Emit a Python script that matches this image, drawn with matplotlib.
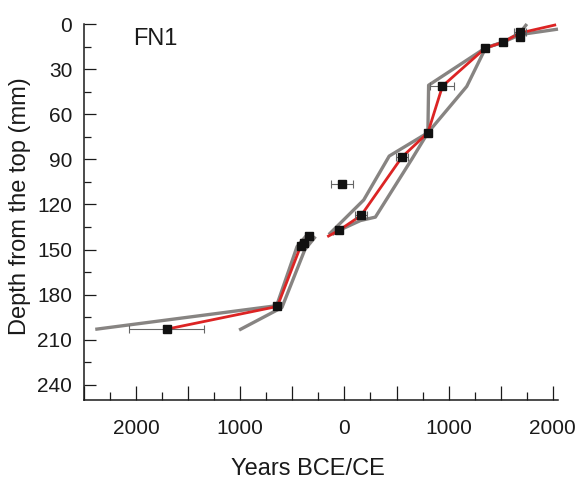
import matplotlib
matplotlib.use("Agg")
import matplotlib.pyplot as plt
from matplotlib.ticker import MultipleLocator, FuncFormatter

plt.rcParams['font.family'] = ['Liberation Sans', 'DejaVu Sans']

# dated samples: year (negative = BCE), depth in mm, 2-sigma age error
sample_year = [-1706, -644, -421, -389, -342, -22, -55, 160, 552, 801, 941, 1352, 1519, 1684, 1684]
sample_depth = [202.9, 187.8, 147.8, 145.5, 140.7, 106.5, 137.3, 127.3, 88.5, 72.3, 41.3, 16.0, 12.2, 5.5, 8.5]
sample_err = [360, 30, 20, 20, 25, 108, 25, 55, 55, 20, 115, 20, 20, 60, 30]

# age model, split at the hiatus around 140 mm
median_low_year = [-1706, -644, -421, -389, -342]
median_low_depth = [202.9, 187.8, 147.8, 145.5, 140.7]
median_up_year = [-153, -55, 160, 552, 801, 941, 1352, 1519, 1684, 2019]
median_up_depth = [141.0, 137.3, 127.3, 88.5, 72.3, 41.3, 16.0, 12.2, 6.0, 0.7]

old_low_year = [-2392, -651, -455, -357]
old_low_depth = [203.0, 187.3, 148.0, 140.0]
young_low_year = [-1011, -600, -380, -278]
young_low_depth = [203.5, 188.5, 150.0, 141.3]

old_up_year = [-150, 185, 430, 801, 808, 1356, 1519, 1684, 1751]
old_up_depth = [140.0, 117.0, 87.8, 72.3, 40.7, 15.8, 12.2, 6.0, 0.0]
young_up_year = [-118, -55, 153, 297, 650, 801, 1174, 1356, 1519, 1690, 2050]
young_up_depth = [140.0, 137.3, 130.7, 128.4, 89.5, 72.3, 41.5, 15.8, 12.2, 7.0, 3.4]

GRAY = '#878482'
RED = '#dc2424'
INK = '#1a1a1a'

fig = plt.figure(figsize=(5.81, 4.82), dpi=100)
ax = fig.add_axes([84 / 581, 82 / 482, 474 / 581, 376 / 482])

for xs, ys in [(old_low_year, old_low_depth), (young_low_year, young_low_depth),
               (old_up_year, old_up_depth), (young_up_year, young_up_depth)]:
    ax.plot(xs, ys, color=GRAY, lw=2.4, solid_capstyle='butt', clip_on=False, zorder=2)

for xs, ys in [(median_low_year, median_low_depth), (median_up_year, median_up_depth)]:
    ax.plot(xs, ys, color=RED, lw=2.0, clip_on=False, zorder=3)

ax.errorbar(sample_year, sample_depth, xerr=sample_err, fmt='s', color='#111111',
            ms=6.2, ecolor='#666666', elinewidth=0.8, capsize=3, capthick=0.8, zorder=4)

ax.set_xlim(-2500, 2050)
ax.set_ylim(250, 0)

for side in ['top', 'right']:
    ax.spines[side].set_visible(False)
for side in ['left', 'bottom']:
    ax.spines[side].set_linewidth(1.1)
    ax.spines[side].set_color(INK)

ax.xaxis.set_major_locator(MultipleLocator(500))
ax.xaxis.set_minor_locator(MultipleLocator(250))
ax.xaxis.set_major_formatter(FuncFormatter(
    lambda v, p: '%d' % abs(v) if v % 1000 == 0 else ''))
ax.yaxis.set_major_locator(MultipleLocator(30))
ax.yaxis.set_minor_locator(MultipleLocator(15))

ax.tick_params(axis='x', which='major', direction='in', length=10, width=0.9,
               pad=14, labelsize=15, colors=INK)
ax.tick_params(axis='x', which='minor', direction='in', length=5.5, width=0.9, colors=INK)
ax.tick_params(axis='y', which='major', direction='in', length=8.5, width=0.9,
               pad=8.5, labelsize=15, colors=INK)
ax.tick_params(axis='y', which='minor', direction='in', length=5, width=0.9, colors=INK)

ax.set_xlabel('Years BCE/CE', fontsize=17, color=INK, va='top')
ax.xaxis.set_label_coords(0.473, -0.154)
ax.set_ylabel('Depth from the top (mm)', fontsize=17, color=INK)
ax.yaxis.set_label_coords(-0.112, 0.516)

ax.text(0.103, 0.944, 'FN1', transform=ax.transAxes, fontsize=17, color=INK,
        va='baseline', ha='left')

fig.savefig('out.png', dpi=100)
